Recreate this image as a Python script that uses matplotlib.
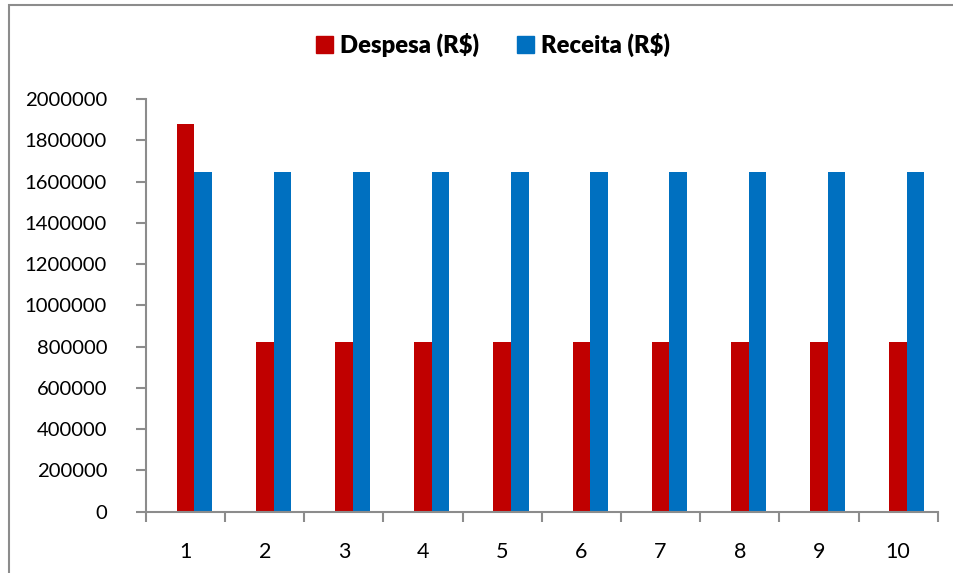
import matplotlib
matplotlib.use("Agg")
import matplotlib.pyplot as plt
from matplotlib.patches import Rectangle, Patch
import numpy as np

plt.rcParams['font.family'] = ['Lato', 'DejaVu Sans']

periods = [1, 2, 3, 4, 5, 6, 7, 8, 9, 10]
despesa = [1877000, 822000, 822000, 822000, 822000, 822000, 822000, 822000, 822000, 822000]
receita = [1644500, 1644500, 1644500, 1644500, 1644500, 1644500, 1644500, 1644500, 1644500, 1644500]
y_ticks = [0, 200000, 400000, 600000, 800000, 1000000, 1200000, 1400000, 1600000, 1800000, 2000000]

RED = '#C00000'
BLUE = '#0070C0'
GRAY = '#8C8C8C'

fig = plt.figure(figsize=(9.54, 5.73), dpi=100)
ax = fig.add_axes([0.1530, 0.1073, 0.8299, 0.7199])

# clustered bars: three slots per category (first slot empty), gap 150%
w = 1 / 4.5
x = np.arange(len(periods))
ax.bar(x, despesa, width=w, color=RED, align='center')
ax.bar(x + w, receita, width=w, color=BLUE, align='center')

ax.set_xlim(-0.5, len(periods) - 0.5)
ax.set_ylim(0, 2000000)
ax.set_yticks(y_ticks)
ax.set_yticklabels([str(v) for v in y_ticks], fontsize=14.6)
ax.set_xticks(x)
ax.set_xticklabels([str(p) for p in periods], fontsize=15.5)
ax.set_xticks(np.arange(len(periods) + 1) - 0.5, minor=True)
ax.tick_params(axis='x', which='major', length=0, pad=22)
ax.tick_params(axis='x', which='minor', length=7, width=1.5, color=GRAY, direction='out')
ax.tick_params(axis='y', length=7, width=1.5, color=GRAY, direction='out', pad=21)

for s in ('top', 'right'):
    ax.spines[s].set_visible(False)
for s in ('left', 'bottom'):
    ax.spines[s].set_color(GRAY)
    ax.spines[s].set_linewidth(1.5)

handles = [Patch(color=RED, label='Despesa (R$)'), Patch(color=BLUE, label='Receita (R$)')]
fig.legend(handles=handles, loc='center', bbox_to_anchor=(0.517, 0.922), ncol=2,
           frameon=False, prop={'weight': 'heavy', 'size': 17.1},
           handlelength=0.7, handleheight=0.7, handletextpad=0.3, columnspacing=1.6)

# chart area border
fig.patches.append(Rectangle((9.5 / 954, -0.05), 1.2, 1 - 4.5 / 573 + 0.05,
                             transform=fig.transFigure, fill=False,
                             edgecolor=GRAY, linewidth=1.5))

fig.savefig('out.png', dpi=100)
